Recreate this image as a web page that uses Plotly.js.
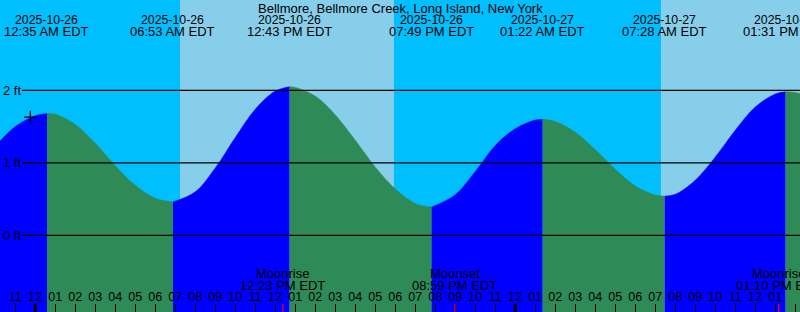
<!DOCTYPE html>
<html>
<head>
<meta charset="utf-8">
<script src="https://cdn.plot.ly/plotly-3.0.1.min.js"></script>
<style>html,body{margin:0;padding:0;background:#00BFFF;}#chart{width:800px;height:312px;}</style>
</head>
<body>
<div id="chart"></div>
<script>
// ---- data ----
const chartTitle = 'Bellmore, Bellmore Creek, Long Island, New York';
const tideTimes = [
  '2025-10-25 22:00','2025-10-25 23:00','2025-10-26 00:00','2025-10-26 00:35',
  '2025-10-26 01:00','2025-10-26 02:00','2025-10-26 03:00','2025-10-26 04:00','2025-10-26 05:00','2025-10-26 06:00','2025-10-26 06:53',
  '2025-10-26 08:00','2025-10-26 09:00','2025-10-26 10:00','2025-10-26 11:00','2025-10-26 12:00','2025-10-26 12:43',
  '2025-10-26 13:00','2025-10-26 14:00','2025-10-26 15:00','2025-10-26 16:00','2025-10-26 17:00','2025-10-26 18:00','2025-10-26 19:00','2025-10-26 19:49',
  '2025-10-26 21:00','2025-10-26 22:00','2025-10-26 23:00','2025-10-27 00:00','2025-10-27 01:00','2025-10-27 01:22',
  '2025-10-27 02:00','2025-10-27 03:00','2025-10-27 04:00','2025-10-27 05:00','2025-10-27 06:00','2025-10-27 07:00','2025-10-27 07:28',
  '2025-10-27 08:00','2025-10-27 09:00','2025-10-27 10:00','2025-10-27 11:00','2025-10-27 12:00','2025-10-27 13:00','2025-10-27 13:31',
  '2025-10-27 14:00','2025-10-27 15:00'
];
const tideFeet = [
  1.23, 1.50, 1.65, 1.68,
  1.67, 1.53, 1.27, 0.96, 0.69, 0.51, 0.46,
  0.60, 0.93, 1.35, 1.74, 1.99, 2.05,
  2.04, 1.92, 1.66, 1.31, 0.94, 0.64, 0.44, 0.39,
  0.56, 0.88, 1.24, 1.47, 1.59, 1.60,
  1.57, 1.42, 1.18, 0.91, 0.68, 0.555, 0.54,
  0.565, 0.76, 1.08, 1.45, 1.77, 1.95, 1.98,
  1.97, 1.90
];
const extremaTimes = ['2025-10-26 00:35','2025-10-26 06:53','2025-10-26 12:43','2025-10-26 19:49','2025-10-27 01:22','2025-10-27 07:28','2025-10-27 13:31'];
const extremaDates = ['2025-10-26','2025-10-26','2025-10-26','2025-10-26','2025-10-27','2025-10-27','2025-10-27'];
const extremaClock = ['12:35 AM EDT','06:53 AM EDT','12:43 PM EDT','07:49 PM EDT','01:22 AM EDT','07:28 AM EDT','01:31 PM EDT'];
const sunriseTimes = ['2025-10-26 07:14','2025-10-27 07:17'];
const sunsetTimes  = ['2025-10-26 17:56','2025-10-27 17:55'];
const moonTimes  = ['2025-10-26 12:23','2025-10-26 20:59','2025-10-27 13:10'];
const moonEvents = ['Moonrise','Moonset','Moonrise'];
const moonClock  = ['12:23 PM EDT','08:59 PM EDT','01:10 PM EDT'];
const midnights  = ['2025-10-26 00:00','2025-10-27 00:00'];
const gridFeet   = [0, 1, 2];
const gridLabels = ['0 ft','1 ft','2 ft'];
const markTimes  = ['2025-10-25 23:45'];
const markFeet   = [1.63];

// ---- styling ----
const FONT = 'Liberation Sans, Arial, sans-serif';
const NIGHT = '#00BFFF', DAY = '#87CEEB', RISING = '#0000FF', FALLING = '#2E8B57';
const xRange = ['2025-10-25 22:14:06','2025-10-27 14:14:06'];
const yRange = [-1.058, 3.246];

// ---- build fill segments split at extrema ----
const traces = [];
const cut = [0];
extremaTimes.forEach(t => { const i = tideTimes.indexOf(t); if (i > 0) cut.push(i); });
cut.push(tideTimes.length - 1);
for (let s = 0; s < cut.length - 1; s++) {
  const a = cut[s], b = cut[s + 1];
  const xs = tideTimes.slice(a, b + 1), ys = tideFeet.slice(a, b + 1);
  const col = ys[ys.length - 1] > ys[0] ? RISING : FALLING;
  traces.push({x: [xs[0], xs[xs.length - 1]], y: [yRange[0] - 1, yRange[0] - 1], mode: 'lines',
    line: {width: 0, color: col}, hoverinfo: 'skip', showlegend: false});
  traces.push({x: xs, y: ys, mode: 'lines', fill: 'tonexty', fillcolor: col,
    line: {width: 0.5, color: col, shape: 'spline', smoothing: 1.0}, hoverinfo: 'skip', showlegend: false});
}
traces.push({x: markTimes, y: markFeet, mode: 'markers',
  marker: {symbol: 'cross-thin', size: 9, line: {width: 1.2, color: '#000'}}, hoverinfo: 'skip', showlegend: false});

// ---- shapes ----
const shapes = [];
sunriseTimes.forEach((t, i) => shapes.push({type: 'rect', layer: 'below', xref: 'x', yref: 'paper',
  x0: t, x1: sunsetTimes[i], y0: 0, y1: 1, fillcolor: DAY, line: {width: 0}}));
gridFeet.forEach(v => shapes.push({type: 'line', xref: 'paper', yref: 'y', x0: 22 / 800, x1: 1, y0: v, y1: v,
  line: {color: '#000', width: 1.3}}));
midnights.forEach(t => shapes.push({type: 'line', xref: 'x', yref: 'paper', x0: t, x1: t, y0: 0, y1: 8 / 312,
  line: {color: '#000', width: 3}}));
moonTimes.forEach(t => shapes.push({type: 'line', xref: 'x', yref: 'paper', x0: t, x1: t, y0: 0, y1: 8 / 312,
  line: {color: '#FF0000', width: 1.2}}));

// ---- annotations ----
const ann = [];
const txt = (text, x, xref, ypx, size) => ({text, x, xref, y: 1 - ypx / 312, yref: 'paper',
  xanchor: 'center', yanchor: 'middle', showarrow: false,
  font: {family: FONT, size: size || 13, color: '#000'}});
ann.push(txt(chartTitle, 0.5, 'paper', 8));
extremaTimes.forEach((t, i) => { ann.push(txt(extremaDates[i], t, 'x', 19.5, 12.3)); ann.push(txt(extremaClock[i], t, 'x', 31.5)); });
moonTimes.forEach((t, i) => { ann.push(txt(moonEvents[i], t, 'x', 273.5)); ann.push(txt(moonClock[i], t, 'x', 285.5)); });
gridFeet.forEach((v, i) => ann.push({text: gridLabels[i], x: 0, xref: 'paper', y: v, yref: 'y', xanchor: 'left',
  yanchor: 'middle', showarrow: false, xshift: 1, font: {family: FONT, size: 13, color: '#000'}}));

const layout = {
  width: 800, height: 312, margin: {l: 0, r: 0, t: 0, b: 0},
  paper_bgcolor: NIGHT, plot_bgcolor: NIGHT, showlegend: false,
  xaxis: {type: 'date', range: xRange, showgrid: false, zeroline: false, showline: false,
    ticks: 'inside', ticklen: 8, tickwidth: 1, tickcolor: '#000', tick0: '2025-10-26 00:00', dtick: 3600000,
    tickformat: '%I', ticklabelposition: 'inside', tickfont: {family: FONT, size: 12.5, color: '#000'}, fixedrange: true},
  yaxis: {range: yRange, showgrid: false, zeroline: false, showticklabels: false, ticks: '', fixedrange: true},
  shapes, annotations: ann
};
Plotly.newPlot('chart', traces, layout, {staticPlot: true, displayModeBar: false});
</script>
</body>
</html>
